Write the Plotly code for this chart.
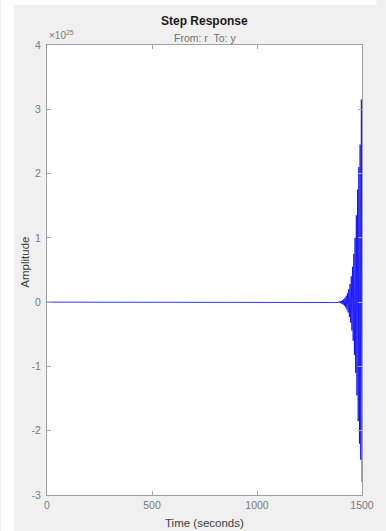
import plotly.graph_objects as go

# Step response samples: time in seconds, amplitude in units of 1e25.
# The output stays flat at zero until ~1380 s, then oscillates with a
# rapidly growing envelope; each entry below is one swing peak.
time_s = [0, 1380, 1383, 1386, 1389, 1392, 1395, 1398, 1401, 1404, 1407,
          1410, 1413, 1416, 1419, 1422, 1425, 1428, 1431, 1434, 1437,
          1440, 1443, 1446, 1449, 1452, 1455, 1458, 1461, 1464, 1467,
          1470, 1473, 1476, 1479, 1482, 1485, 1488, 1491, 1494, 1497, 1500]
amplitude_e25 = [0, 0, 0.005, -0.006, 0.008, -0.010, 0.013, -0.016, 0.020, -0.025, 0.030,
                 -0.037, 0.045, -0.055, 0.068, -0.080, 0.10, -0.115, 0.14, -0.16, 0.20,
                 -0.23, 0.28, -0.32, 0.40, -0.44, 0.55, -0.60, 0.75, -0.82, 1.00,
                 -1.10, 1.35, -1.45, 1.75, -1.85, 2.10, -2.20, 2.45, -2.45, 3.15, -2.80]

x_ticks = [0, 500, 1000, 1500]
x_tick_labels = ["0", "500", "1000", "1500"]
y_ticks = [-3, -2, -1, 0, 1, 2, 3, 4]
y_tick_labels = ["-3", "-2", "-1", "0", "1", "2", "3", "4"]

W, H = 386, 531
L, R, T, B = 47, 15, 45, 36
pw, ph = W - L - R, H - T - B


def px(x):
    return (x - L) / pw


def py(y):
    return (H - B - y) / ph


fig = go.Figure()
fig.add_trace(go.Scatter(
    x=time_s, y=amplitude_e25, mode="lines",
    line=dict(color="#0000ff", width=0.8),
    showlegend=False, hoverinfo="x+y",
))

font = "Liberation Sans, Arial"
axis_common = dict(
    showgrid=False, zeroline=False, showline=True, linecolor="#a0a0a0",
    linewidth=1, mirror="ticks", ticks="inside", ticklen=4, tickcolor="#a8a8a8",
    tickfont=dict(family=font, size=10.5, color="#7a7a7a"),
)
fig.update_xaxes(range=[0, 1500], tickvals=x_ticks, ticktext=x_tick_labels, **axis_common)
fig.update_yaxes(range=[-3, 4], tickvals=y_ticks, ticktext=y_tick_labels,
                 ticklabelstandoff=3, **axis_common)

annotations = [
    dict(text="<b>Step Response</b>", x=0.5, y=py(21), xanchor="center", yanchor="middle",
         font=dict(family=font, size=12, color="#1a1a1a")),
    dict(text="From: r  To: y", x=0.5, y=py(38), xanchor="center", yanchor="middle",
         font=dict(family=font, size=10.5, color="#6e6e6e")),
    dict(text="×10<sup>25</sup>", x=px(47), y=py(43), xanchor="left", yanchor="bottom",
         font=dict(family=font, size=10, color="#7a7a7a")),
    dict(text="Time (seconds)", x=0.5, y=py(523), xanchor="center", yanchor="middle",
         font=dict(family=font, size=11.5, color="#404040")),
    dict(text="Amplitude", x=px(24), y=py(262), xanchor="center", yanchor="middle",
         textangle=-90, font=dict(family=font, size=11.5, color="#404040")),
]
for a in annotations:
    a.update(xref="paper", yref="paper", showarrow=False)

# white strips along the left and top edges of the figure window
shapes = [
    dict(type="rect", xref="paper", yref="paper", x0=px(0), x1=px(13), y0=py(H), y1=py(0),
         fillcolor="white", line=dict(width=0), layer="below"),
    dict(type="rect", xref="paper", yref="paper", x0=px(0), x1=px(W), y0=py(5), y1=py(0),
         fillcolor="white", line=dict(width=0), layer="below"),
]

fig.update_layout(
    width=W, height=H, autosize=False,
    margin=dict(l=L, r=R, t=T, b=B, pad=0),
    paper_bgcolor="#f0f0f0", plot_bgcolor="white",
    annotations=annotations, shapes=shapes,
)

fig.write_html("out.html")
